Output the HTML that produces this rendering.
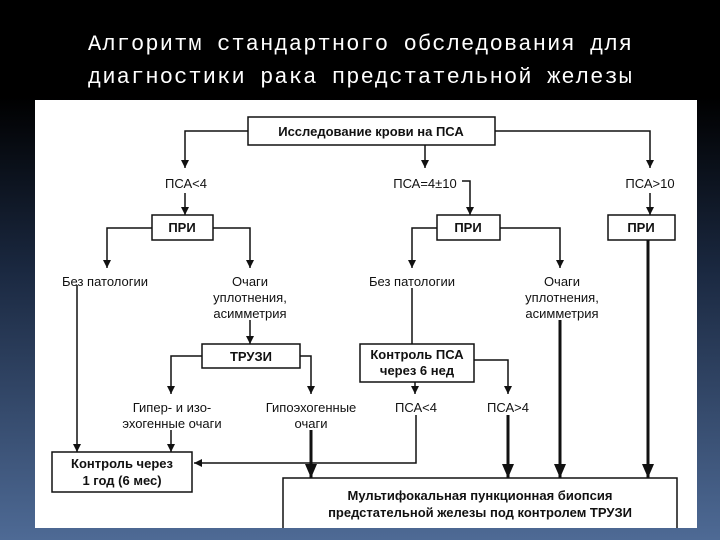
<!DOCTYPE html>
<html><head><meta charset="utf-8"><style>
html,body{margin:0;padding:0;width:720px;height:540px;overflow:hidden;background:linear-gradient(#000 0%,#000 18%,#1a2840 50%,#4e6a95 100%);}
svg{position:absolute;left:0;top:0}
.t{font-family:"Liberation Sans",sans-serif;font-size:13px;fill:#111}
.b{font-weight:bold}
</style></head><body>
<svg width="720" height="540" xmlns="http://www.w3.org/2000/svg">
<defs>
<marker id="a" markerWidth="8" markerHeight="8" refX="8" refY="4" orient="auto" markerUnits="userSpaceOnUse"><path d="M0,0 L8,4 L0,8 Z" fill="#111"/></marker>
<marker id="A" markerWidth="14" markerHeight="12" refX="14" refY="6" orient="auto" markerUnits="userSpaceOnUse"><path d="M0,0 L14,6 L0,12 Z" fill="#111"/></marker>
</defs>
<g font-family="Liberation Mono,monospace" font-size="22" fill="#fff">
<text x="88" y="50" textLength="544">Алгоритм стандартного обследования для</text>
<text x="88" y="83" textLength="544">диагностики рака предстательной железы</text>
</g>
<rect x="35" y="100" width="662" height="428" fill="#fff"/>
<g stroke="#111" stroke-width="1.5" fill="none">
<rect x="248" y="117" width="247" height="28"/>
<rect x="152" y="215" width="61" height="25"/>
<rect x="437" y="215" width="63" height="25"/>
<rect x="608" y="215" width="67" height="25"/>
<rect x="202" y="344" width="98" height="24"/>
<rect x="360" y="344" width="114" height="38"/>
<rect x="52" y="452" width="140" height="40"/>
<path d="M283,528 V478 H677 V528"/>
<path d="M248,131 H185 V168" marker-end="url(#a)"/>
<path d="M425,145 V168" marker-end="url(#a)"/>
<path d="M495,131 H650 V168" marker-end="url(#a)"/>
<path d="M185,193 V215" marker-end="url(#a)"/>
<path d="M462,181 H470 V215" marker-end="url(#a)"/>
<path d="M650,193 V215" marker-end="url(#a)"/>
<path d="M152,228 H107 V268" marker-end="url(#a)"/>
<path d="M213,228 H250 V268" marker-end="url(#a)"/>
<path d="M437,228 H412 V268" marker-end="url(#a)"/>
<path d="M500,228 H560 V268" marker-end="url(#a)"/>
<path d="M77,285 V452" marker-end="url(#a)"/>
<path d="M250,320 V344" marker-end="url(#a)"/>
<path d="M202,356 H171 V394" marker-end="url(#a)"/>
<path d="M300,356 H311 V394" marker-end="url(#a)"/>
<path d="M412,288 V344"/>
<path d="M474,360 H508 V394" marker-end="url(#a)"/>
<path d="M415,382 V394" marker-end="url(#a)"/>
<path d="M171,430 V452" marker-end="url(#a)"/>
<path d="M416,415 V463 H194" marker-end="url(#a)"/>
</g>
<g stroke="#111" stroke-width="3" fill="none">
<path d="M648,240 V478" marker-end="url(#A)"/>
<path d="M560,320 V478" marker-end="url(#A)"/>
<path d="M508,415 V478" marker-end="url(#A)"/>
<path d="M311,430 V478" marker-end="url(#A)"/>
</g>
<g class="t" text-anchor="middle">
<text class="b" x="371" y="136">Исследование крови на ПСА</text>
<text x="186" y="188">ПСА&lt;4</text>
<text x="425" y="188">ПСА=4±10</text>
<text x="650" y="188">ПСА&gt;10</text>
<text class="b" x="182" y="232">ПРИ</text>
<text class="b" x="468" y="232">ПРИ</text>
<text class="b" x="641" y="232">ПРИ</text>
<text x="105" y="286">Без патологии</text>
<text x="250" y="286">Очаги</text>
<text x="250" y="302">уплотнения,</text>
<text x="250" y="318">асимметрия</text>
<text x="412" y="286">Без патологии</text>
<text x="562" y="286">Очаги</text>
<text x="562" y="302">уплотнения,</text>
<text x="562" y="318">асимметрия</text>
<text class="b" x="251" y="361">ТРУЗИ</text>
<text class="b" x="417" y="359">Контроль ПСА</text>
<text class="b" x="417" y="375">через 6 нед</text>
<text x="172" y="412">Гипер- и изо-</text>
<text x="172" y="428">эхогенные очаги</text>
<text x="311" y="412">Гипоэхогенные</text>
<text x="311" y="428">очаги</text>
<text x="416" y="412">ПСА&lt;4</text>
<text x="508" y="412">ПСА&gt;4</text>
<text class="b" x="122" y="468">Контроль через</text>
<text class="b" x="122" y="485">1 год (6 мес)</text>
<text class="b" x="480" y="500">Мультифокальная пункционная биопсия</text>
<text class="b" x="480" y="517">предстательной железы под контролем ТРУЗИ</text>
</g>
</svg>
</body></html>
